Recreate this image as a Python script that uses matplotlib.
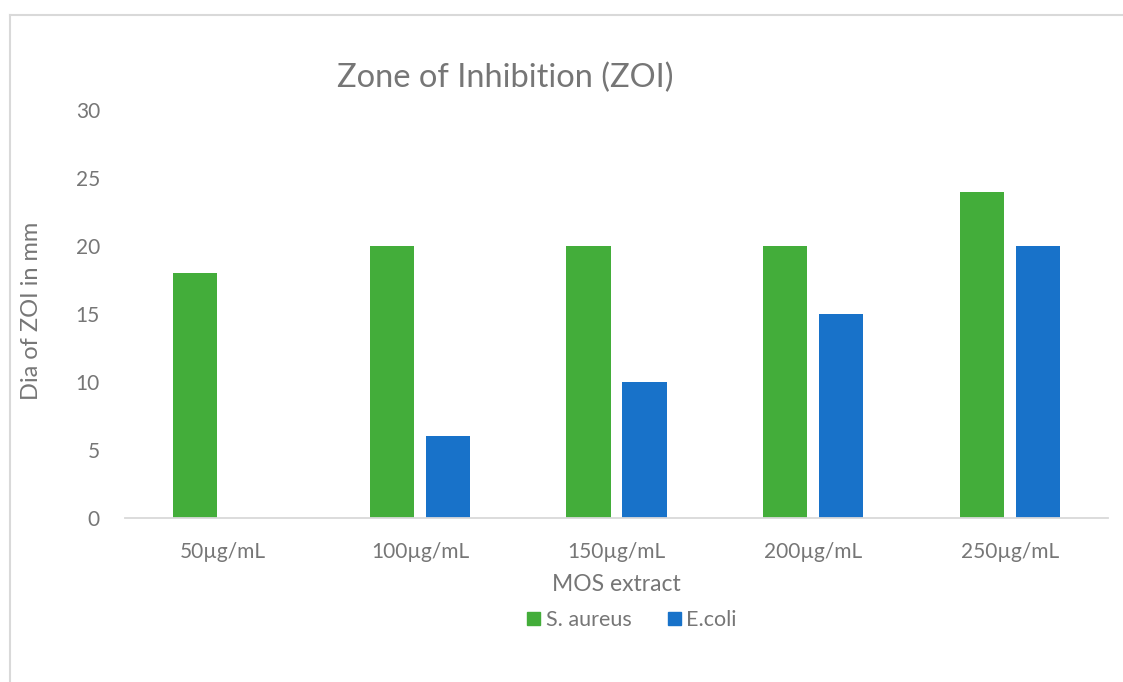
import matplotlib
matplotlib.use("Agg")
import matplotlib.pyplot as plt
import numpy as np
from matplotlib.patches import Rectangle
from matplotlib.lines import Line2D

categories = ["50µg/mL", "100µg/mL", "150µg/mL", "200µg/mL", "250µg/mL"]
s_aureus = [18, 20, 20, 20, 24]
e_coli = [0, 6, 10, 15, 20]
series_names = ["S. aureus", "E.coli"]
y_ticks = [0, 5, 10, 15, 20, 25, 30]

GREEN = "#43AD3A"
BLUE = "#1872C9"
TEXT = "#767676"
AXIS = "#D9D9D9"
FONT = ["Lato", "DejaVu Sans"]

W, H = 1123, 682
fig = plt.figure(figsize=(W / 100, H / 100), dpi=100)
fig.patch.set_facecolor("white")

# outer chart frame (left and top edges visible)
fig.add_artist(Line2D([10 / W, 10 / W], [0, 1 - 15 / H], transform=fig.transFigure,
                      color="#D9D9D9", lw=1.5))
fig.add_artist(Line2D([10 / W, 1], [1 - 15 / H, 1 - 15 / H], transform=fig.transFigure,
                      color="#D9D9D9", lw=1.5))

left, right, top, bottom = 125, 1108, 110, 518
ax = fig.add_axes([left / W, 1 - bottom / H, (right - left) / W, (bottom - top) / H])

x = np.arange(len(categories))
bw = 0.224
gap = 0.061
ax.bar(x - (bw + gap) / 2, s_aureus, width=bw, color=GREEN, label=series_names[0])
ax.bar(x + (bw + gap) / 2, e_coli, width=bw, color=BLUE, label=series_names[1])

ax.set_xlim(-0.5, len(categories) - 0.5)
ax.set_ylim(0, 30)
ax.set_yticks(y_ticks)
ax.set_xticks(x)
ax.set_xticklabels(categories)
for sp in ["top", "right", "left"]:
    ax.spines[sp].set_visible(False)
ax.spines["bottom"].set_color(AXIS)
ax.spines["bottom"].set_linewidth(1.3)
ax.tick_params(axis="both", length=0, colors=TEXT, labelsize=15)
ax.tick_params(axis="x", pad=17)
ax.tick_params(axis="y", pad=18)
for lab in ax.get_xticklabels() + ax.get_yticklabels():
    lab.set_family(FONT)

ax.set_ylabel("Dia of ZOI in mm", fontsize=17, color=TEXT, family=FONT)
ax.yaxis.set_label_coords((42 - left) / (right - left), (518 - 311) / (bottom - top))
ax.set_xlabel("MOS extract", fontsize=16.5, color=TEXT, family=FONT, labelpad=9)

fig.text(505 / W, 1 - 78 / H, "Zone of Inhibition (ZOI)", ha="center", va="center",
         fontsize=23.5, color=TEXT, family=FONT)

leg = fig.legend(handles=[Rectangle((0, 0), 1, 1, color=GREEN), Rectangle((0, 0), 1, 1, color=BLUE)],
                 labels=series_names, loc="center", bbox_to_anchor=(632 / W, 1 - 620 / H),
                 ncol=2, frameon=False, handlelength=0.6, handleheight=0.6,
                 handletextpad=0.25, columnspacing=1.7, prop={"family": FONT, "size": 15.5})
for t in leg.get_texts():
    t.set_color(TEXT)

fig.savefig("out.png", dpi=100, facecolor="white")
